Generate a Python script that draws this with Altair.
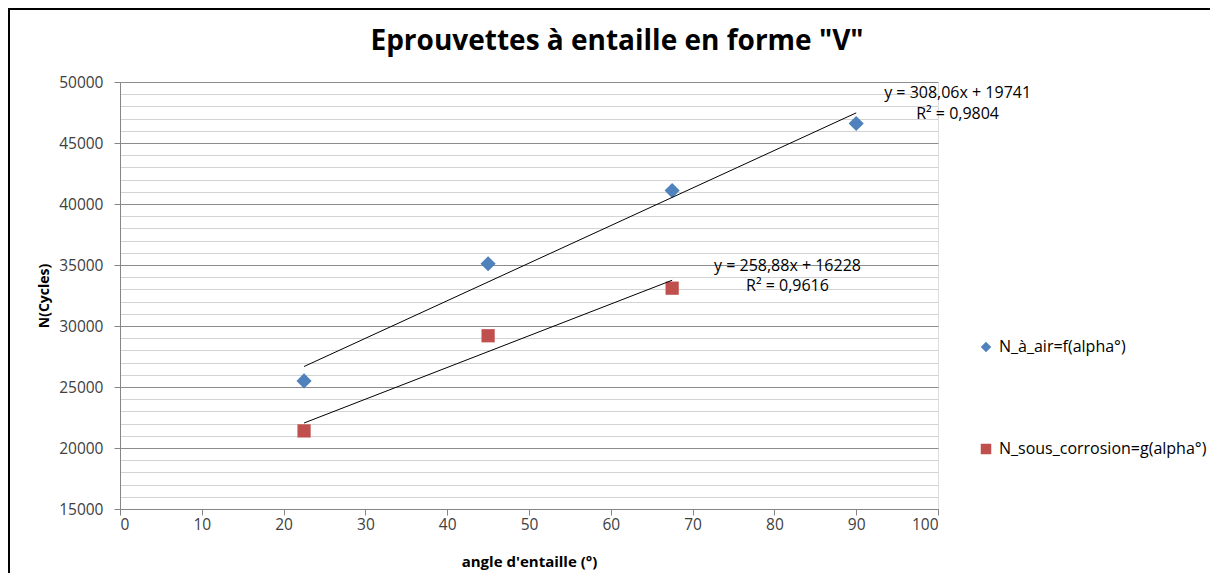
import altair as alt
import pandas as pd

# ---- data ----
series_names = ["N_à_air=f(alpha°)", "N_sous_corrosion=g(alpha°)"]
air_angle = [22.5, 45, 67.5, 90]
air_n = [25500, 35100, 41100, 46600]
corr_angle = [22.5, 45, 67.5]
corr_n = [21400, 29200, 33100]

eq_texts = ["y = 308,06x + 19741", "R² = 0,9804", "y = 258,88x + 16228", "R² = 0,9616"]
eq_x = [102.4, 102.4, 81.6, 81.6]
eq_y = [49100, 47400, 34950, 33250]

title_text = 'Eprouvettes à entaille en forme "V"'

y_ticks = list(range(15000, 50001, 1000))
x_ticks = list(range(0, 101, 10))

colors = ["#4F81BD", "#C0504D"]
shapes = ["diamond", "square"]

pts = pd.DataFrame(
    {"angle": air_angle + corr_angle,
     "N": air_n + corr_n,
     "serie": [series_names[0]] * len(air_angle) + [series_names[1]] * len(corr_angle)}
)
ann = pd.DataFrame({"x": eq_x, "y": eq_y, "t": eq_texts})
ttl = pd.DataFrame({"t": [title_text]})

FONT = "Open Sans"
W, H = 818, 427

x_enc = alt.X(
    "angle:Q",
    scale=alt.Scale(domain=[0, 100], nice=False),
    axis=alt.Axis(
        values=x_ticks, tickCount=40, title="angle d'entaille (°)", grid=False,
        domainColor="#868686", tickColor="#868686", tickSize=6,
        labelFontSize=15.5, labelColor="#404040", labelPadding=2,
        titleFontSize=15, titleFontWeight="bold", titleColor="#000000", titlePadding=22,
        labelFont=FONT, titleFont=FONT,
    ),
)
y_enc = alt.Y(
    "N:Q",
    scale=alt.Scale(domain=[15000, 50000], nice=False, zero=False),
    axis=alt.Axis(
        values=y_ticks, tickCount=60, title="N(Cycles)", format="d",
        labelExpr="datum.value % 5000 === 0 ? datum.label : ''",
        gridColor={"condition": {"test": "datum.value % 5000 === 0", "value": "#8c8c8c"}, "value": "#d3d3d3"},
        gridWidth=1,
        tickColor={"condition": {"test": "datum.value % 5000 === 0", "value": "#868686"}, "value": "transparent"},
        tickSize=6, domainColor="#868686",
        labelFontSize=15.5, labelColor="#404040", labelPadding=11,
        titleFontSize=14, titleFontWeight="bold", titleColor="#000000", titlePadding=7,
        labelFont=FONT, titleFont=FONT,
    ),
)

color_enc = alt.Color(
    "serie:N",
    scale=alt.Scale(domain=series_names, range=colors),
    legend=alt.Legend(
        title=None, orient="none", legendX=858, legendY=257,
        rowPadding=86, symbolSize=110, labelFontSize=16, labelFont=FONT, labelLimit=400,
        labelColor="#000000", symbolStrokeWidth=0, labelOffset=5,
    ),
)
shape_enc = alt.Shape("serie:N", scale=alt.Scale(domain=series_names, range=shapes), legend=None)

air_pts = alt.Chart(pts).transform_filter(
    alt.datum.serie == series_names[0]
).mark_point(filled=True, opacity=1, size=230).encode(x=x_enc, y=y_enc, color=color_enc, shape=shape_enc)

corr_pts = alt.Chart(pts).transform_filter(
    alt.datum.serie == series_names[1]
).mark_point(filled=True, opacity=1, size=175).encode(x="angle:Q", y="N:Q", color=color_enc, shape=shape_enc)

trend = alt.Chart(pts).transform_regression(
    "angle", "N", groupby=["serie"]
).mark_line(color="#000000", strokeWidth=1, clip=False).encode(
    x="angle:Q", y="N:Q", detail="serie:N"
)

labels = alt.Chart(ann).mark_text(
    fontSize=16, font=FONT, color="#000000", align="center", baseline="middle", clip=False
).encode(x="x:Q", y="y:Q", text="t:N")

title = alt.Chart(ttl).mark_text(
    fontSize=28, font=FONT, fontWeight="bold", color="#000000",
    align="center", baseline="middle", clip=False
).encode(x=alt.value(497), y=alt.value(-40), text="t:N")

frame_top = alt.Chart(pts).mark_rule(color="#000000", strokeWidth=2).encode(
    x=alt.value(-112), x2=alt.value(1210 - 112), y=alt.value(-73)
)
frame_left = alt.Chart(pts).mark_rule(color="#000000", strokeWidth=2).encode(
    x=alt.value(-111), y=alt.value(-74), y2=alt.value(581 - 82)
)

chart = alt.layer(air_pts, corr_pts, trend, labels, title, frame_top, frame_left).properties(
    width=W, height=H,
    autosize=alt.AutoSizeParams(type="none"),
    padding={"left": 112, "top": 74, "right": 272, "bottom": 64},
).configure_view(stroke=None).configure(background="white")

chart.save("out.html", embed_options={"renderer": "svg", "actions": False})
